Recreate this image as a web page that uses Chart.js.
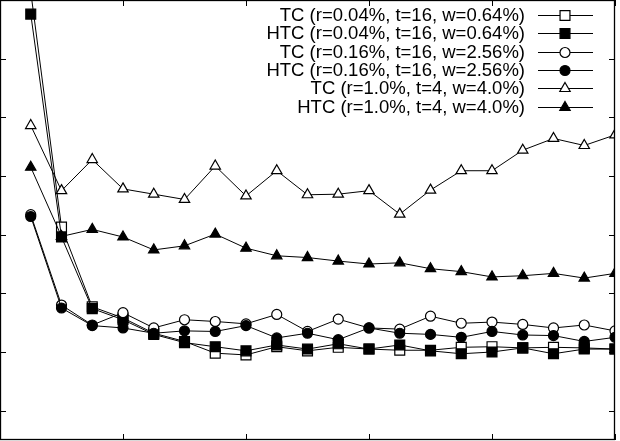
<!DOCTYPE html>
<html>
<head>
<meta charset="utf-8">
<script src="https://cdn.jsdelivr.net/npm/chart.js@4/dist/chart.umd.min.js"></script>
<style>
  html, body { margin: 0; padding: 0; background: #fff; }
  #wrap { width: 620px; height: 441px; position: relative; }
</style>
</head>
<body>
<div id="wrap"><canvas id="lineChart"></canvas></div>
<script>
// x positions of the runs
const xValues = [1, 2, 3, 4, 5, 6, 7, 8, 9, 10, 11, 12, 13, 14, 15, 16, 17, 18, 19, 20];

// tick positions (no labels are shown in the picture)
const xTicks = [0, 4, 8, 12, 16, 20];
const yTicks = [0, 1, 2, 3, 4, 5, 6, 7];

const labels = [
    'TC (r=0.04%, t=16, w=0.64%)',
    'HTC (r=0.04%, t=16, w=0.64%)',
    'TC (r=0.16%, t=16, w=2.56%)',
    'HTC (r=0.16%, t=16, w=2.56%)',
    'TC (r=1.0%, t=4, w=4.0%)',
    'HTC (r=1.0%, t=4, w=4.0%)'
];

const tcSmall  = [7.14, 3.13, 1.77, 1.58, 1.32, 1.18, 0.98, 0.95, 1.09, 1.02, 1.08, 1.05, 1.03, 1.03, 1.08, 1.09, 1.07, 1.08, 1.07, 1.05];
const htcSmall = [6.76, 2.96, 1.74, 1.55, 1.30, 1.16, 1.09, 1.02, 1.12, 1.05, 1.14, 1.05, 1.12, 1.02, 0.97, 1.00, 1.07, 0.97, 1.05, 1.05];
const tcMid    = [3.34, 1.80, 1.46, 1.67, 1.41, 1.55, 1.52, 1.48, 1.64, 1.35, 1.56, 1.41, 1.39, 1.61, 1.49, 1.51, 1.47, 1.41, 1.46, 1.36];
const htcMid   = [3.31, 1.75, 1.45, 1.41, 1.32, 1.36, 1.35, 1.45, 1.24, 1.32, 1.21, 1.41, 1.32, 1.30, 1.25, 1.35, 1.29, 1.28, 1.18, 1.25];
const tcBig    = [4.86, 3.75, 4.28, 3.78, 3.69, 3.60, 4.17, 3.66, 4.09, 3.68, 3.69, 3.75, 3.35, 3.76, 4.09, 4.09, 4.44, 4.64, 4.52, 4.70];
const htcBig   = [4.15, 2.97, 3.09, 2.96, 2.74, 2.81, 3.01, 2.77, 2.64, 2.61, 2.55, 2.50, 2.52, 2.42, 2.37, 2.28, 2.30, 2.34, 2.26, 2.34];

const series = [tcSmall, htcSmall, tcMid, htcMid, tcBig, htcBig];
const styles = ['rect', 'rect', 'circle', 'circle', 'triangle', 'triangle'];
const sizes = [7, 7, 5, 5, 6, 6];
const fills = ['#fff', '#000', '#fff', '#000', '#fff', '#000'];

const datasets = series.map((vals, i) => ({
    label: labels[i],
    data: vals.map((v, j) => ({ x: xValues[j], y: v })),
    borderColor: '#000',
    borderWidth: 1,
    pointStyle: styles[i],
    pointRadius: sizes[i],
    pointBackgroundColor: fills[i],
    pointBorderColor: '#000',
    pointBorderWidth: 1.2,
    tension: 0,
    order: series.length - i
}));

// gnuplot-like frame, inward ticks and key
const framePlugin = {
    id: 'framePlugin',
    afterDraw: function(chart) {
        const ctx = chart.ctx;
        const area = chart.chartArea;
        const xs = chart.scales.x;
        const ys = chart.scales.y;
        const tl = 6;
        ctx.save();
        ctx.strokeStyle = '#000';
        ctx.lineWidth = 1;
        ctx.beginPath();
        xTicks.forEach(v => {
            const px = Math.round(xs.getPixelForValue(v)) + 0.5;
            ctx.moveTo(px, area.bottom);
            ctx.lineTo(px, area.bottom - tl);
            ctx.moveTo(px, area.top);
            ctx.lineTo(px, area.top + tl);
        });
        yTicks.forEach(v => {
            const py = Math.round(ys.getPixelForValue(v)) + 0.5;
            ctx.moveTo(area.left, py);
            ctx.lineTo(area.left + tl, py);
            ctx.moveTo(area.right, py);
            ctx.lineTo(area.right - tl, py);
        });
        ctx.stroke();
        ctx.lineWidth = 1.3;
        ctx.strokeRect(area.left + 0.5, area.top + 0.5, area.right - area.left - 1, area.bottom - area.top - 1);

        // key
        ctx.font = '18.5px "Liberation Sans", Arial, sans-serif';
        ctx.textAlign = 'right';
        ctx.textBaseline = 'middle';
        ctx.fillStyle = '#000';
        chart.data.datasets.forEach((ds, i) => {
            const y = 15 + i * 18.33;
            ctx.fillText(ds.label, 525, y + 1);
            ctx.lineWidth = 1;
            ctx.strokeStyle = '#000';
            ctx.beginPath();
            ctx.moveTo(538, Math.round(y) + 0.5);
            ctx.lineTo(593, Math.round(y) + 0.5);
            ctx.stroke();
            ctx.fillStyle = ds.pointBackgroundColor;
            ctx.lineWidth = ds.pointBorderWidth;
            Chart.helpers.drawPoint(ctx, {
                pointStyle: ds.pointStyle,
                radius: ds.pointRadius,
                rotation: 0,
                borderWidth: ds.pointBorderWidth
            }, 565, Math.round(y) + 0.5);
            ctx.fillStyle = '#000';
        });
        ctx.restore();
    }
};

var ctxLine = document.getElementById('lineChart').getContext('2d');
const lineChart = new Chart(ctxLine, {
    type: 'line',
    data: { datasets: datasets },
    options: {
        responsive: true,
        maintainAspectRatio: false,
        animation: false,
        layout: { autoPadding: false, padding: { left: 0, top: 0, right: 5, bottom: 1 } },
        scales: {
            x: { type: 'linear', min: 0, max: 20, display: false },
            y: { type: 'linear', min: -0.5, max: 7, display: false }
        },
        plugins: {
            legend: { display: false },
            tooltip: { enabled: false }
        }
    },
    plugins: [framePlugin]
});
</script>
</body>
</html>
